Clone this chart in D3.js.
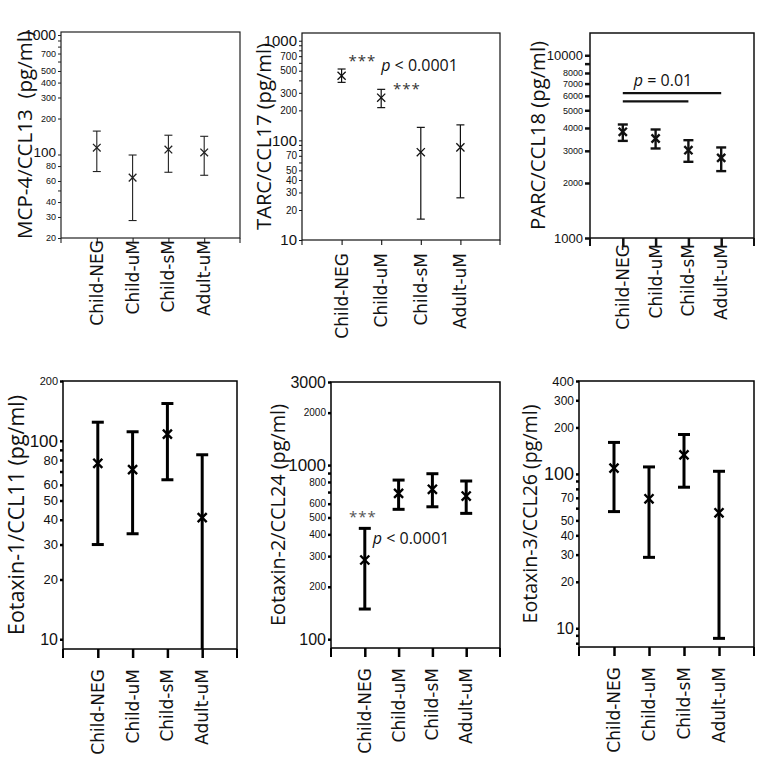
<!DOCTYPE html>
<html><head><meta charset="utf-8">
<script src="https://cdn.jsdelivr.net/npm/d3@7"></script>
<style>
body{margin:0;background:#fff;}
svg{display:block;}
.ylab{font-family:"Open Sans",sans-serif;white-space:pre;}
.xlab{font-family:"DejaVu Sans",sans-serif;}
.tk{font-family:"Liberation Sans Narrow","Liberation Sans",sans-serif;}
.ann{font-family:"Open Sans",sans-serif;}
</style></head>
<body><div id="chart"></div>
<script>
// ---------------- DATA ----------------
const groups = ["Child-NEG", "Child-uM", "Child-sM", "Adult-uM"];

const mcp4Mean = [114, 64, 110, 104];
const mcp4Low  = [72, 28, 71, 67];
const mcp4High = [157, 99, 145, 142];

const tarcMean = [445, 268, 76, 85];
const tarcLow  = [382, 213, 16.2, 26.5];
const tarcHigh = [520, 325, 135, 143];

const parcMean = [3810, 3505, 3025, 2745];
const parcLow  = [3400, 3090, 2612, 2323];
const parcHigh = [4180, 3925, 3430, 3130];

const eo1Mean = [77, 71.5, 108, 41];
const eo1Low  = [30, 34, 63.6, 8.9];
const eo1High = [124, 111, 154, 85];

const eo2Mean = [285, 688, 726, 664];
const eo2Low  = [149, 557, 576, 528];
const eo2High = [433, 820, 892, 810];

const eo3Mean = [109, 69, 133, 56];
const eo3Low  = [57, 28.8, 82, 8.6];
const eo3High = [160, 111, 180, 104];

const mcp4Ticks = [20, 30, 40, 60, 80, 100, 200, 300, 400, 500, 700, 1000];
const mcp4Minor = [50, 600, 800, 900];
const tarcTicks = [10, 20, 30, 40, 50, 70, 100, 200, 300, 500, 700, 1000];
const tarcMinor = [60, 80, 90, 400, 600, 800, 900];
const parcTicks = [1000, 2000, 3000, 4000, 5000, 6000, 7000, 8000, 10000];
const parcMinor = [9000];
const eo1Ticks = [10, 20, 30, 40, 50, 60, 80, 100, 200];
const eo1Minor = [70, 90];
const eo2Ticks = [100, 200, 300, 400, 500, 600, 800, 1000, 2000, 3000];
const eo2Minor = [700, 900];
const eo3Ticks = [10, 20, 30, 40, 50, 70, 100, 200, 300, 400];
const eo3Minor = [8, 9, 60, 80, 90];

// ---------------- LAYOUT ----------------
const W = 763, H = 773;
const svg = d3.select("#chart").append("svg").attr("width", W).attr("height", H);
svg.append("rect").attr("width", W).attr("height", H).attr("fill", "#fff");

const panels = [
  {label:"MCP-4/CCL13  (pg/ml)", mean:mcp4Mean, low:mcp4Low, high:mcp4High, ticks:mcp4Ticks, minor:mcp4Minor,
   left:61, right:240, top:32, bottom:238, domain:[20,1060], thick:false, tickLen:3, xTickLen:5,
   xlabOff:2, ylabX:32, ylabLen:208, big:{1000:14,100:13.5}, small:9, bigShift:-2, frameW:1.2, barW:1.1, cap:4, markSize:40,
   color:"#222"},
  {label:"TARC/CCL17 (pg/ml)", mean:tarcMean, low:tarcLow, high:tarcHigh, ticks:tarcTicks, minor:tarcMinor,
   left:302, right:500, top:33, bottom:240, domain:[10,1195], thick:false, tickLen:3, xTickLen:5,
   xlabOff:13, ylabX:271, ylabLen:187, big:{1000:15,100:15,10:15}, small:10, bigShift:0, frameW:1.2, barW:1.2, cap:4, markSize:45,
   color:"#111"},
  {label:"PARC/CCL18 (pg/ml)", mean:parcMean, low:parcLow, high:parcHigh, ticks:parcTicks, minor:parcMinor,
   left:590, right:754, top:33, bottom:238, domain:[1000,13240], thick:true, tickLen:5, xTickLen:8,
   xlabOff:6, ylabX:545, ylabLen:189, big:{10000:13,1000:13}, small:9, bigShift:0, frameW:1.5, barW:2.4, cap:5, markSize:45,
   color:"#111"},
  {label:"Eotaxin-1/CCL11 (pg/ml)", mean:eo1Mean, low:eo1Low, high:eo1High, ticks:eo1Ticks, minor:eo1Minor,
   left:63, right:237, top:381, bottom:649, domain:[8.93,200], thick:true, tickLen:3, xTickLen:9,
   xlabOff:20, ylabX:24, ylabLen:240, big:{100:17,10:16,200:11}, small:13, bigShift:0, frameW:1.5, barW:3, cap:6, markSize:55,
   color:"#000"},
  {label:"Eotaxin-2/CCL24 (pg/ml)", mean:eo2Mean, low:eo2Low, high:eo2High, ticks:eo2Ticks, minor:eo2Minor,
   left:331, right:500, top:382, bottom:648, domain:[89,3000], thick:true, tickLen:3, xTickLen:9,
   xlabOff:20, ylabX:285, ylabLen:222, big:{1000:17,100:16,3000:16}, small:10, bigShift:0, frameW:1.5, barW:3, cap:6, markSize:55,
   color:"#000"},
  {label:"Eotaxin-3/CCL26 (pg/ml)", mean:eo3Mean, low:eo3Low, high:eo3High, ticks:eo3Ticks, minor:eo3Minor,
   left:579, right:754, top:381, bottom:647, domain:[7.56,400], thick:true, tickLen:3, xTickLen:9,
   xlabOff:20, ylabX:537, ylabLen:219, big:{100:18,10:16,400:13}, small:12, bigShift:0, frameW:1.5, barW:3, cap:6, markSize:55,
   color:"#000"}
];

function drawPanel(p) {
  const g = svg.append("g");
  const x = d3.scalePoint().domain(groups).range([p.left, p.right]).padding(1);
  const y = d3.scaleLog().domain(p.domain).range([p.bottom, p.top]);
  p.x = x; p.y = y;

  // y axis (major)
  const ya = g.append("g").attr("transform", `translate(${p.left},0)`)
    .call(d3.axisLeft(y).tickValues(p.ticks).tickSize(p.tickLen).tickPadding(2).tickFormat(d => d));
  ya.select(".domain").remove();
  ya.selectAll(".tick line").attr("stroke", p.color).attr("stroke-width", p.thick ? 2.5 : 1);
  ya.selectAll(".tick text").attr("class", "tk").attr("fill", "#111")
    .style("font-size", d => (p.big[d] || p.small) + "px")
    .style("font-stretch", d => p.big[d] ? "normal" : "condensed")
    .attr("y", d => (p.big[d] && d === 100) ? p.bigShift : 0);
  // minor ticks
  const ym = g.append("g").attr("transform", `translate(${p.left},0)`)
    .call(d3.axisLeft(y).tickValues(p.minor).tickSize(p.tickLen).tickFormat(""));
  ym.select(".domain").remove();
  ym.selectAll(".tick line").attr("stroke", p.color).attr("stroke-width", p.thick ? 2.5 : 1);

  // x axis ticks
  const xa = g.append("g").attr("transform", `translate(0,${p.bottom})`)
    .call(d3.axisBottom(x).tickSize(p.xTickLen).tickFormat(""));
  xa.select(".domain").remove();
  xa.selectAll(".tick line").attr("stroke", p.color).attr("stroke-width", p.thick ? 2.5 : 1.1);
  // end ticks at box corners
  [p.left, p.right].forEach(ex => {
    g.append("line").attr("x1", ex).attr("x2", ex).attr("y1", p.bottom).attr("y2", p.bottom + p.xTickLen)
      .attr("stroke", p.color).attr("stroke-width", p.thick ? 2 : 1.1);
  });

  // frame
  g.append("rect").attr("x", p.left).attr("y", p.top)
    .attr("width", p.right - p.left).attr("height", p.bottom - p.top)
    .attr("fill", "none").attr("stroke", p.color).attr("stroke-width", p.frameW);

  // x labels
  groups.forEach(cat => {
    g.append("text").attr("class", "xlab")
      .attr("transform", `translate(${x(cat) + 6},${p.bottom + p.xlabOff}) rotate(-90)`)
      .attr("text-anchor", "end").style("font-size", "17px").attr("fill", "#111")
      .text(cat);
  });

  // y label, fitted to measured length
  const yl = g.append("text").attr("class", "ylab")
    .attr("transform", `translate(${p.ylabX},${(p.top + p.bottom) / 2}) rotate(-90)`)
    .attr("text-anchor", "middle").style("font-size", "18px").attr("fill", "#111")
    .text(p.label);
  const len = yl.node().getComputedTextLength();
  yl.style("font-size", (18 * p.ylabLen / len).toFixed(2) + "px");

  // error bars
  const rows = groups.map((cat, i) => ({cat, m: p.mean[i], lo: p.low[i], hi: p.high[i]}));
  const eb = g.append("g").attr("stroke", p.color).attr("stroke-width", p.barW).attr("fill", "none");
  eb.selectAll(".v").data(rows).join("line")
    .attr("x1", d => x(d.cat)).attr("x2", d => x(d.cat))
    .attr("y1", d => y(Math.max(d.lo, p.domain[0]))).attr("y2", d => y(d.hi));
  eb.selectAll(".ch").data(rows).join("line")
    .attr("x1", d => x(d.cat) - p.cap).attr("x2", d => x(d.cat) + p.cap)
    .attr("y1", d => y(d.hi)).attr("y2", d => y(d.hi));
  eb.selectAll(".cl").data(rows.filter(d => d.lo > p.domain[0])).join("line")
    .attr("x1", d => x(d.cat) - p.cap).attr("x2", d => x(d.cat) + p.cap)
    .attr("y1", d => y(d.lo)).attr("y2", d => y(d.lo));
  // markers
  const sym = d3.symbol().type(d3.symbolTimes).size(p.markSize);
  g.selectAll(".mk").data(rows).join("path")
    .attr("transform", d => `translate(${x(d.cat)},${y(d.m)})`)
    .attr("d", sym).attr("fill", "none").attr("stroke", p.color)
    .attr("stroke-width", p.thick ? 2.4 : 1.3);
  return g;
}

panels.forEach(drawPanel);

// ---------------- ANNOTATIONS ----------------
// TARC panel
(function () {
  const p = panels[1];
  const g = svg.append("g").attr("class", "ann");
  const midA = (p.x(groups[0]) + p.x(groups[1])) / 2;
  const midB = (p.x(groups[1]) + p.x(groups[2])) / 2;
  g.append("text").attr("x", midA + 1).attr("y", p.y(560)).attr("text-anchor", "middle")
    .style("font-size", "15px").attr("fill", "#333").attr("letter-spacing", "1px").text("***");
  g.append("text").attr("x", midB + 6).attr("y", p.y(290)).attr("text-anchor", "middle")
    .style("font-size", "15px").attr("fill", "#333").attr("letter-spacing", "1px").text("***");
  const t = g.append("text").attr("x", p.x(groups[1])).attr("y", p.y(500))
    .style("font-size", "16px").attr("fill", "#111");
  t.append("tspan").style("font-style", "italic").text("p");
  t.append("tspan").text(" < 0.0001");
})();

// PARC panel
(function () {
  const p = panels[2];
  const g = svg.append("g").attr("class", "ann");
  g.append("line").attr("x1", p.x(groups[0])).attr("x2", p.x(groups[3]))
    .attr("y1", p.y(6200)).attr("y2", p.y(6200)).attr("stroke", "#111").attr("stroke-width", 2.2);
  g.append("line").attr("x1", p.x(groups[0])).attr("x2", p.x(groups[2]))
    .attr("y1", p.y(5600)).attr("y2", p.y(5600)).attr("stroke", "#111").attr("stroke-width", 2.2);
  const t = g.append("text").attr("x", (p.x(groups[1]) + p.x(groups[2])) / 2 - 9).attr("y", p.y(6800))
    .attr("text-anchor", "middle").style("font-size", "16px").attr("fill", "#111");
  t.append("tspan").style("font-style", "italic").text("p");
  t.append("tspan").text(" = 0.01");
})();

// Eotaxin-2 panel
(function () {
  const p = panels[4];
  const g = svg.append("g").attr("class", "ann");
  g.append("text").attr("x", p.x(groups[0]) - 2).attr("y", p.y(470)).attr("text-anchor", "middle")
    .style("font-size", "15px").attr("fill", "#555").attr("letter-spacing", "1px").text("***");
  const t = g.append("text").attr("x", p.x(groups[0]) + 8).attr("y", p.y(350))
    .style("font-size", "16px").attr("fill", "#111");
  t.append("tspan").style("font-style", "italic").text("p");
  t.append("tspan").text(" < 0.0001");
})();
</script></body></html>
